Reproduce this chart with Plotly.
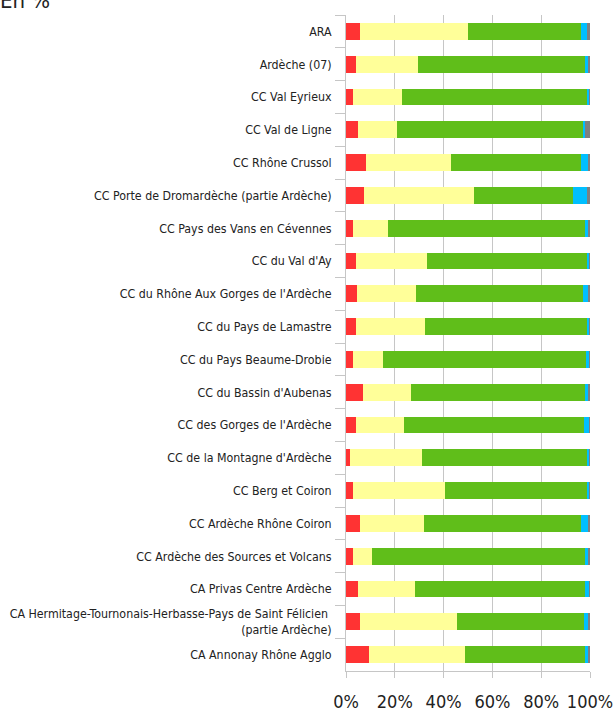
import plotly.graph_objects as go

categories = [
    "ARA",
    "Ardèche (07)",
    "CC Val Eyrieux",
    "CC Val de Ligne",
    "CC Rhône Crussol",
    "CC Porte de Dromardèche (partie Ardèche)",
    "CC Pays des Vans en Cévennes",
    "CC du Val d'Ay",
    "CC du Rhône Aux Gorges de l'Ardèche",
    "CC du Pays de Lamastre",
    "CC du Pays Beaume-Drobie",
    "CC du Bassin d'Aubenas",
    "CC des Gorges de l'Ardèche",
    "CC de la Montagne d'Ardèche",
    "CC Berg et Coiron",
    "CC Ardèche Rhône Coiron",
    "CC Ardèche des Sources et Volcans",
    "CA Privas Centre Ardèche",
    "CA Hermitage-Tournonais-Herbasse-Pays de Saint Félicien <br>(partie Ardèche)",
    "CA Annonay Rhône Agglo",
]

red_vals =    [5.9, 4.2, 3.0, 5.0, 8.3, 7.5, 3.0, 4.0, 4.6, 4.0, 3.0, 7.1, 4.0, 1.8, 3.0, 5.9, 3.0, 5.0, 5.9, 9.5]
yellow_vals = [44.1, 25.4, 20.0, 16.0, 34.8, 45.0, 14.3, 29.3, 24.2, 28.4, 12.3, 19.6, 19.9, 29.4, 37.6, 26.1, 7.8, 23.4, 39.6, 39.3]
green_vals =  [46.5, 68.3, 75.8, 76.2, 53.2, 40.5, 80.6, 65.5, 68.4, 66.4, 83.0, 71.2, 73.6, 67.6, 58.2, 64.3, 87.4, 69.5, 52.0, 49.1]
blue_vals =   [2.2, 1.1, 0.9, 0.7, 2.7, 5.8, 1.1, 0.9, 1.8, 0.9, 1.4, 1.1, 2.2, 0.9, 0.9, 2.7, 0.8, 1.8, 1.5, 1.1]
gray_vals =   [1.3, 1.0, 0.3, 2.1, 1.0, 1.2, 1.0, 0.3, 1.0, 0.3, 0.3, 1.0, 0.3, 0.3, 0.3, 1.0, 1.0, 0.3, 1.0, 1.0]

x_ticks = [0, 20, 40, 60, 80, 100]
x_tick_labels = ["0%", "20%", "40%", "60%", "80%", "100%"]

series = [
    ("Série 1", red_vals, "#FF3333"),
    ("Série 2", yellow_vals, "#FFFF99"),
    ("Série 3", green_vals, "#60BE1A"),
    ("Série 4", blue_vals, "#00BFFF"),
    ("Série 5", gray_vals, "#808080"),
]

fig = go.Figure()
for name, vals, color in series:
    fig.add_trace(go.Bar(
        y=categories, x=vals, name=name, orientation="h",
        marker=dict(color=color, line=dict(width=0)),
        hoverinfo="x+y",
    ))

font_name = "DejaVu Sans Condensed, Liberation Sans Narrow, Roboto Condensed, DejaVu Sans, sans-serif"

fig.update_layout(
    barmode="stack",
    bargap=0.49,
    width=613, height=711,
    margin=dict(l=346, r=23, t=15, b=40, pad=0),
    paper_bgcolor="white",
    plot_bgcolor="white",
    showlegend=False,
    font=dict(family=font_name, color="#333333"),
    title=dict(
        text="En %", x=0.0, xref="container", xanchor="left",
        y=1.0, yref="container", yanchor="middle",
        font=dict(family=font_name, size=22, color="#222222"),
        pad=dict(l=0, t=0, b=0, r=0),
    ),
    xaxis=dict(
        range=[0, 100],
        tickvals=x_ticks, ticktext=x_tick_labels,
        showgrid=True, gridcolor="#C6C6C6", gridwidth=1,
        zeroline=False,
        showline=True, linecolor="#C6C6C6", linewidth=1,
        ticks="outside", ticklen=6, tickcolor="#C6C6C6",
        tickfont=dict(family=font_name, size=18, color="#222222"),
        ticklabelstandoff=8,
        ticklabeloverflow="allow",
        automargin=False,
        fixedrange=True,
    ),
    yaxis=dict(
        autorange="reversed",
        type="category",
        showgrid=False,
        showline=True, linecolor="#C6C6C6", linewidth=1,
        ticks="outside", ticklen=10, tickcolor="#C6C6C6",
        tickson="boundaries",
        tickfont=dict(family=font_name, size=12.3, color="#222222"),
        ticklabelstandoff=11,
        automargin=False,
        fixedrange=True,
    ),
)

fig.write_html(
    "out.html",
    config={"displayModeBar": False},
    post_script="document.body.style.margin='0px';",
)
